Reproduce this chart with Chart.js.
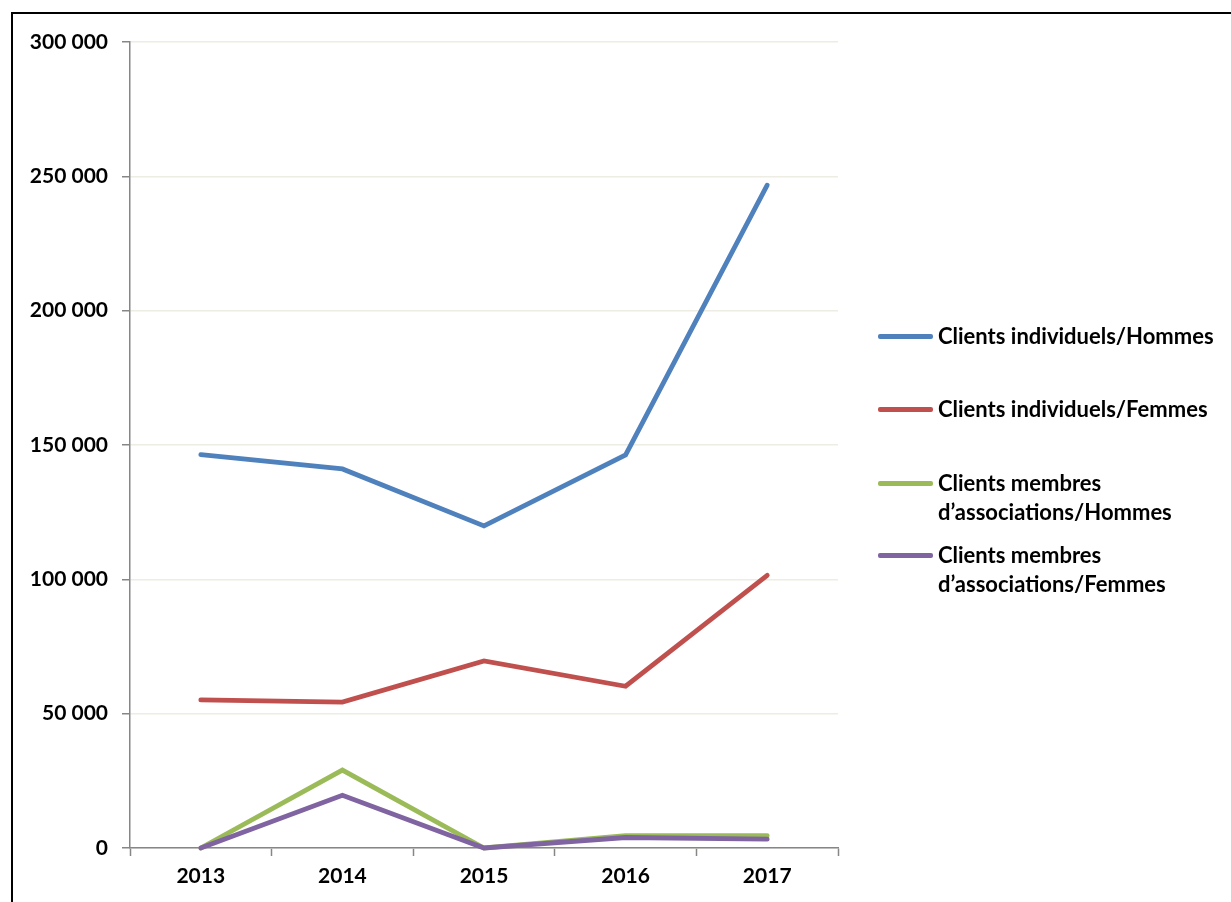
<!DOCTYPE html>
<html>
<head>
<meta charset="utf-8">
<script src="https://cdn.jsdelivr.net/npm/chart.js@4.4.1/dist/chart.umd.min.js"></script>
<style>
  html, body { margin: 0; padding: 0; background: #fff; }
  #wrap { position: relative; width: 1231px; height: 902px; overflow: hidden; }
  #frame { position: absolute; left: 11px; top: 12px; width: 1300px; height: 1000px;
           border-top: 2px solid #000; border-left: 2px solid #000; }
  #legende { position: absolute; left: 878px; top: 0; font-family: Lato, "Noto Sans", sans-serif;
             font-weight: bold; font-size: 22px; color: #000; }
  .item { position: absolute; left: 0; width: 350px; }
  .item .trait { position: absolute; left: 0; width: 55px; height: 4.5px; border-radius: 2px; }
  .item .txt { position: absolute; left: 60px; line-height: 29px; white-space: nowrap; }
</style>
</head>
<body>
<div id="wrap">
  <canvas id="graf" width="1231" height="902"></canvas>
  <div id="frame"></div>
  <div id="legende"></div>
</div>
<script>
const annees = ['2013', '2014', '2015', '2016', '2017'];
const indivHommes = [146400, 141100, 119900, 146300, 246700];
const indivFemmes = [55100, 54300, 69600, 60200, 101500];
const assocHommes = [0, 29000, 0, 4600, 4600];
const assocFemmes = [0, 19600, 0, 3900, 3300];

const noms = [
  ['Clients individuels/Hommes'],
  ['Clients individuels/Femmes'],
  ['Clients membres', 'd\u2019associations/Hommes'],
  ['Clients membres', 'd\u2019associations/Femmes']
];
const couleurs = ['#4F81BD', '#C0504D', '#9BBB59', '#8064A2'];
const series = [indivHommes, indivFemmes, assocHommes, assocFemmes];
const legendeY = [336, 409, 483, 555];

const police = { family: 'Lato, "Noto Sans", sans-serif', size: 21, weight: 'bold' };

// nombres avec espace comme separateur de milliers
function fmt(v) {
  return String(v).replace(/\B(?=(\d{3})+(?!\d))/g, ' ');
}

new Chart(document.getElementById('graf'), {
  type: 'line',
  data: {
    labels: annees,
    datasets: series.map((s, i) => ({
      label: noms[i].join(' '),
      data: s,
      borderColor: couleurs[i],
      backgroundColor: couleurs[i],
      borderWidth: 4.8,
      borderCapStyle: 'round',
      borderJoinStyle: 'miter',
      pointRadius: 0,
      tension: 0,
      clip: 8,
      order: series.length - i // la derniere serie passe au-dessus
    }))
  },
  options: {
    responsive: false,
    animation: false,
    layout: { padding: { left: 0, right: 393, top: 42, bottom: 0 } },
    plugins: { legend: { display: false }, tooltip: { enabled: false } },
    scales: {
      x: {
        offset: true,
        grid: { offset: true, drawOnChartArea: false, drawTicks: true, tickLength: 8, tickColor: '#868686', tickWidth: 1.5 },
        border: { display: true, color: '#868686', width: 1.5 },
        ticks: { color: '#000', font: police, padding: 8, maxRotation: 0 },
        afterFit: s => { s.height = 54; }
      },
      y: {
        min: 0, max: 300000,
        ticks: { stepSize: 50000, color: '#000', font: police, padding: 14, callback: v => fmt(v) },
        grid: { color: '#EDEDE4', lineWidth: 1.5, tickLength: 8, tickColor: '#868686', tickWidth: 1.5 },
        border: { display: true, color: '#868686', width: 1.5 },
        afterFit: s => { s.width = 130; }
      }
    }
  }
});

// legende a droite, lignes multiples
const leg = document.getElementById('legende');
noms.forEach((n, i) => {
  const it = document.createElement('div');
  it.className = 'item';
  it.style.top = legendeY[i] + 'px';
  const t = document.createElement('div');
  t.className = 'trait';
  t.style.background = couleurs[i];
  t.style.top = '-2px';
  const tx = document.createElement('div');
  tx.className = 'txt';
  tx.style.top = '-15px';
  tx.innerHTML = n.join('<br>');
  it.appendChild(t);
  it.appendChild(tx);
  leg.appendChild(it);
});
</script>
</body>
</html>
